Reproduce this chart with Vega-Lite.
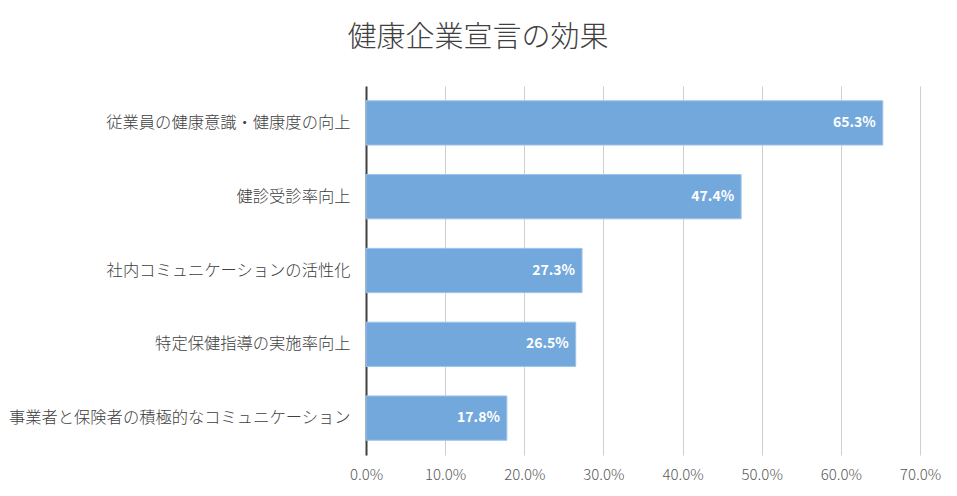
{
  "$schema": "https://vega.github.io/schema/vega-lite/v6.json",
  "width": 554,
  "height": 369,
  "autosize": {"type": "none"},
  "padding": {"left": 366, "top": 86, "right": 37, "bottom": 41},
  "background": "white",
  "title": {
    "text": "健康企業宣言の効果",
    "font": "Noto Sans CJK JP",
    "fontSize": 29,
    "fontWeight": 300,
    "color": "#404040",
    "anchor": "middle",
    "dx": -165,
    "offset": 33
  },
  "data": {
    "values": [
      {"item": "従業員の健康意識・健康度の向上", "value": 0.653},
      {"item": "健診受診率向上", "value": 0.474},
      {"item": "社内コミュニケーションの活性化", "value": 0.273},
      {"item": "特定保健指導の実施率向上", "value": 0.265},
      {"item": "事業者と保険者の積極的なコミュニケーション", "value": 0.178}
    ]
  },
  "config": {
    "view": {"stroke": null},
    "font": "Noto Sans CJK JP"
  },
  "encoding": {
    "y": {
      "field": "item",
      "type": "nominal",
      "sort": null,
      "scale": {"paddingInner": 0.4, "paddingOuter": 0.2},
      "axis": {
        "title": null,
        "domain": true,
        "domainColor": "#404040",
        "domainWidth": 2,
        "ticks": false,
        "labelPadding": 16,
        "labelFontSize": 16.3,
        "labelFontWeight": 300,
        "labelColor": "#404040",
        "labelLimit": 500,
        "labelFont": "Noto Sans CJK JP"
      }
    },
    "x": {
      "field": "value",
      "type": "quantitative",
      "scale": {"domain": [0, 0.7], "nice": false},
      "axis": {
        "title": null,
        "format": ".1%",
        "values": [0, 0.1, 0.2, 0.3, 0.4, 0.5, 0.6, 0.7],
        "grid": true,
        "gridColor": "#cfcfcf",
        "gridWidth": 1,
        "domain": false,
        "ticks": false,
        "labelFlush": false,
        "labelPadding": 12,
        "labelFontSize": 15,
        "labelFontWeight": 300,
        "labelColor": "#595959",
        "labelFont": "Noto Sans CJK JP"
      }
    }
  },
  "layer": [
    {
      "mark": {"type": "bar", "color": "#72a8db", "stroke": "#9ec4e8", "strokeWidth": 1}
    },
    {
      "mark": {
        "type": "text",
        "align": "right",
        "dx": -7,
        "color": "white",
        "fontWeight": "bold",
        "fontSize": 14,
        "font": "Noto Sans CJK JP"
      },
      "encoding": {
        "text": {"field": "value", "type": "quantitative", "format": ".1%"}
      }
    }
  ]
}
